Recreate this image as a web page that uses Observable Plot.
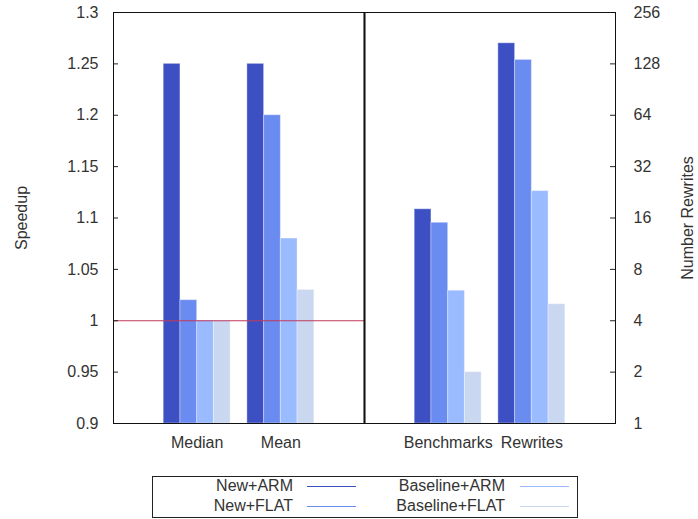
<!DOCTYPE html>
<html>
<head>
<meta charset="utf-8">
<script src="https://cdn.jsdelivr.net/npm/d3@7"></script>
<script src="https://cdn.jsdelivr.net/npm/@observablehq/plot@0.6"></script>
<style>
  html, body { margin: 0; padding: 0; background: #fff; }
  #wrap { position: relative; width: 698px; height: 519px; font-family: "Liberation Sans", Arial, sans-serif; color: #333; overflow: hidden; }
  #left, #right { position: absolute; top: 0; }
  #left { left: 0; }
  #right { left: 364px; }
  #legend { position: absolute; left: 152px; top: 476px; width: 426px; height: 42px; border: 1px solid #222; box-sizing: border-box; font-size: 16px; }
  #legend .t { position: absolute; text-align: right; white-space: nowrap; line-height: 18px; }
  #legend .l { position: absolute; height: 0; border-top: 1px solid; }
</style>
</head>
<body>
<div id="wrap">
  <div id="left"></div>
  <div id="right"></div>
  <div id="legend"></div>
</div>
<script>
const series = ["New+ARM", "New+FLAT", "Baseline+ARM", "Baseline+FLAT"];
const colors = ["#3d50c3", "#6a8bef", "#9abbff", "#c9d7f0"];
const leftGroups = ["Median", "Mean"];
const rightGroups = ["Benchmarks", "Rewrites"];
const speedupMedian = [1.25, 1.02, 1.0, 1.0];
const speedupMean = [1.25, 1.2, 1.08, 1.03];
const rewritesBenchmarks = [18, 15, 6, 2];
const rewritesRewrites = [169, 135, 23, 5];
const speedupTicks = [0.9, 0.95, 1, 1.05, 1.1, 1.15, 1.2, 1.25, 1.3];
const rewriteTicks = [1, 2, 4, 8, 16, 32, 64, 128, 256];
const baselineSpeedup = 1;

function rows(groups, valueLists) {
  const out = [];
  groups.forEach((g, gi) => {
    valueLists[gi].forEach((v, si) => out.push({group: g, gi: gi + 1, series: series[si], si, value: v}));
  });
  return out;
}
const leftData = rows(leftGroups, [speedupMedian, speedupMean]);
const rightData = rows(rightGroups, [rewritesBenchmarks, rewritesRewrites]);

const FONT = 16;
const H = 460;
const common = {
  height: H,
  marginTop: 12,
  marginBottom: H - 423,
  style: {fontFamily: "Liberation Sans, Arial, sans-serif", fontSize: FONT + "px", color: "#333", background: "transparent", overflow: "visible"},
  color: {domain: series, range: colors}
};
const x1 = d => d.gi - 0.4 + 0.2 * d.si;
const x2 = d => d.gi - 0.2 + 0.2 * d.si;

const left = Plot.plot({
  ...common,
  width: 364,
  marginLeft: 113,
  marginRight: 0,
  x: {domain: [0, 3]},
  y: {domain: [0.9, 1.3]},
  marks: [
    Plot.rectY(leftData, {x1, x2, y1: 0.9, y2: "value", fill: "series", stroke: "white", strokeOpacity: 0.35, strokeWidth: 1}),
    Plot.ruleY([baselineSpeedup], {stroke: "#c03a5c", strokeWidth: 1.2}),
    Plot.tickY(speedupTicks, {y: d => d, stroke: "#222", insetRight: 246}),
    Plot.axisY({ticks: speedupTicks, tickFormat: d => String(d), tickSize: 0, tickPadding: 15, label: "Speedup", labelAnchor: "center", labelOffset: 98, labelArrow: "none"}),
    Plot.axisX({ticks: [1, 2], tickFormat: d => leftGroups[d - 1], tickSize: 0, tickPadding: 13, label: null}),
    Plot.frame({stroke: "#111"}),
    Plot.ruleX([3], {stroke: "#000", strokeWidth: 2})
  ]
});

const right = Plot.plot({
  ...common,
  width: 334,
  marginLeft: 0,
  marginRight: 83,
  x: {domain: [0, 3]},
  y: {type: "log", base: 2, domain: [1, 256]},
  marks: [
    Plot.rectY(rightData, {x1, x2, y1: 1, y2: "value", fill: "series", stroke: "white", strokeOpacity: 0.35, strokeWidth: 1}),
    Plot.tickY(rewriteTicks, {y: d => d, stroke: "#222", insetLeft: 246}),
    Plot.axisY({anchor: "right", ticks: rewriteTicks, tickFormat: d => String(d), tickSize: 0, tickPadding: 18, label: "Number Rewrites", labelAnchor: "center", labelOffset: 77, labelArrow: "none"}),
    Plot.axisX({ticks: [1, 2], tickFormat: d => rightGroups[d - 1], tickSize: 0, tickPadding: 13, label: null}),
    Plot.frame({stroke: "#111"})
  ]
});

document.getElementById("left").appendChild(left);
document.getElementById("right").appendChild(right);

// legend
const legend = document.getElementById("legend");
const cols = [{textRight: 140, lineLeft: 154}, {textRight: 352, lineLeft: 367}];
const rowTop = [0, 20];
series.forEach((s, i) => {
  const c = cols[Math.floor(i / 2)], r = rowTop[i % 2];
  const t = document.createElement("div");
  t.className = "t";
  t.style.left = "0px";
  t.style.width = c.textRight + "px";
  t.style.top = r + "px";
  t.textContent = s;
  legend.appendChild(t);
  const l = document.createElement("div");
  l.className = "l";
  l.style.left = c.lineLeft + "px";
  l.style.width = "49px";
  l.style.top = (r + 9) + "px";
  l.style.borderTopColor = colors[i];
  legend.appendChild(l);
});
</script>
</body>
</html>
